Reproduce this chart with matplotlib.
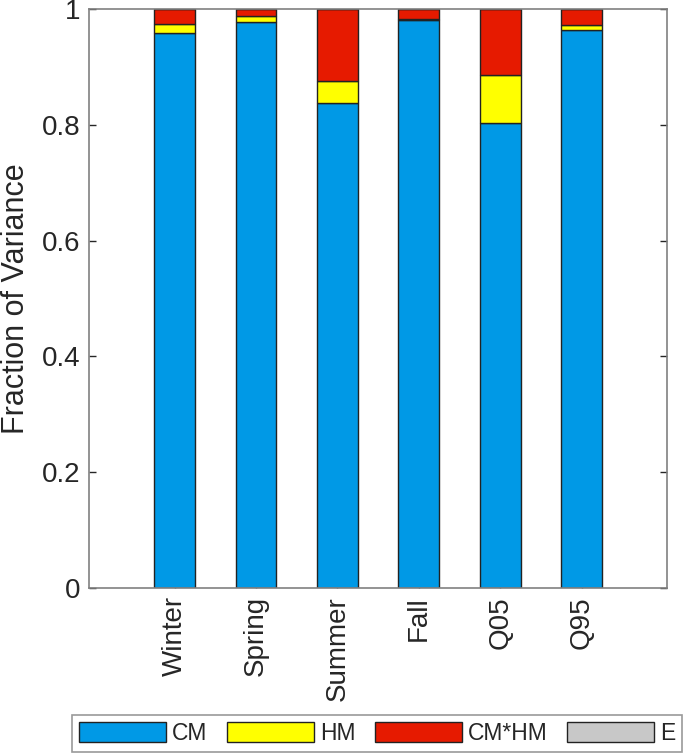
import matplotlib
matplotlib.use("Agg")
import matplotlib.pyplot as plt
import numpy as np

plt.rcParams['font.family'] = ['Liberation Sans', 'DejaVu Sans']

# values
seasons = ["Winter", "Spring", "Summer", "Fall", "Q05", "Q95"]
cm = [0.959, 0.978, 0.8375, 0.982, 0.804, 0.964]
hm = [0.016, 0.010, 0.039, 0.001, 0.083, 0.009]
cm_hm = [0.025, 0.012, 0.1235, 0.017, 0.113, 0.027]
e = [0.0, 0.0, 0.0, 0.0, 0.0, 0.0]

names = ["CM", "HM", "CM*HM", "E"]
colors = ["#0099e6", "#ffff00", "#e61a00", "#c8c8c8"]


def main() -> None:
    fig = plt.figure(figsize=(6.85, 7.53), dpi=100)
    ax = fig.add_axes([89 / 685, 1 - 587.8 / 753, (667.3 - 89) / 685, (587.8 - 9.3) / 753])

    x = np.arange(1, len(seasons) + 1)
    bottom = np.zeros(len(seasons))
    handles = []
    for name, vals, col in zip(names, [cm, hm, cm_hm, e], colors):
        b = ax.bar(x, vals, width=0.5, bottom=bottom, color=col,
                   edgecolor="#222222", linewidth=1.0, label=name, zorder=2)
        handles.append(b)
        bottom = bottom + np.array(vals)

    ax.set_xlim(1 - 1.053, len(seasons) + 1.053)
    ax.set_ylim(0, 1)
    ax.set_xticks(x)
    ax.set_xticklabels(seasons, rotation=90, fontsize=20, color="#262626")
    ax.set_yticks([0, 0.2, 0.4, 0.6, 0.8, 1])
    ax.set_yticklabels(["0", "0.2", "0.4", "0.6", "0.8", "1"], fontsize=20, color="#262626")
    ax.tick_params(direction="in", top=True, right=True, length=5, width=1,
                   color="#262626", pad=6)
    for s in ax.spines.values():
        s.set_color("#808080")
        s.set_linewidth(1.2)
        s.set_zorder(3)
    ax.set_ylabel("Fraction of Variance", fontsize=22, color="#262626", labelpad=8)

    leg = fig.legend(handles, names, loc="lower left", ncol=4, mode="expand",
                     bbox_to_anchor=(72.3 / 685, 1 - 751.7 / 753, (682 - 72.3) / 685, 38.4 / 753),
                     borderaxespad=0, fontsize=16.5, handlelength=3.8, handleheight=1.0,
                     handletextpad=0.25, columnspacing=0.8, fancybox=False, frameon=True,
                     borderpad=0.3)
    leg.get_frame().set_edgecolor("#808080")
    leg.get_frame().set_linewidth(1.2)
    for t in leg.get_texts():
        t.set_color("#262626")

    fig.savefig("out.png", dpi=100)


if __name__ == "__main__":
    main()
